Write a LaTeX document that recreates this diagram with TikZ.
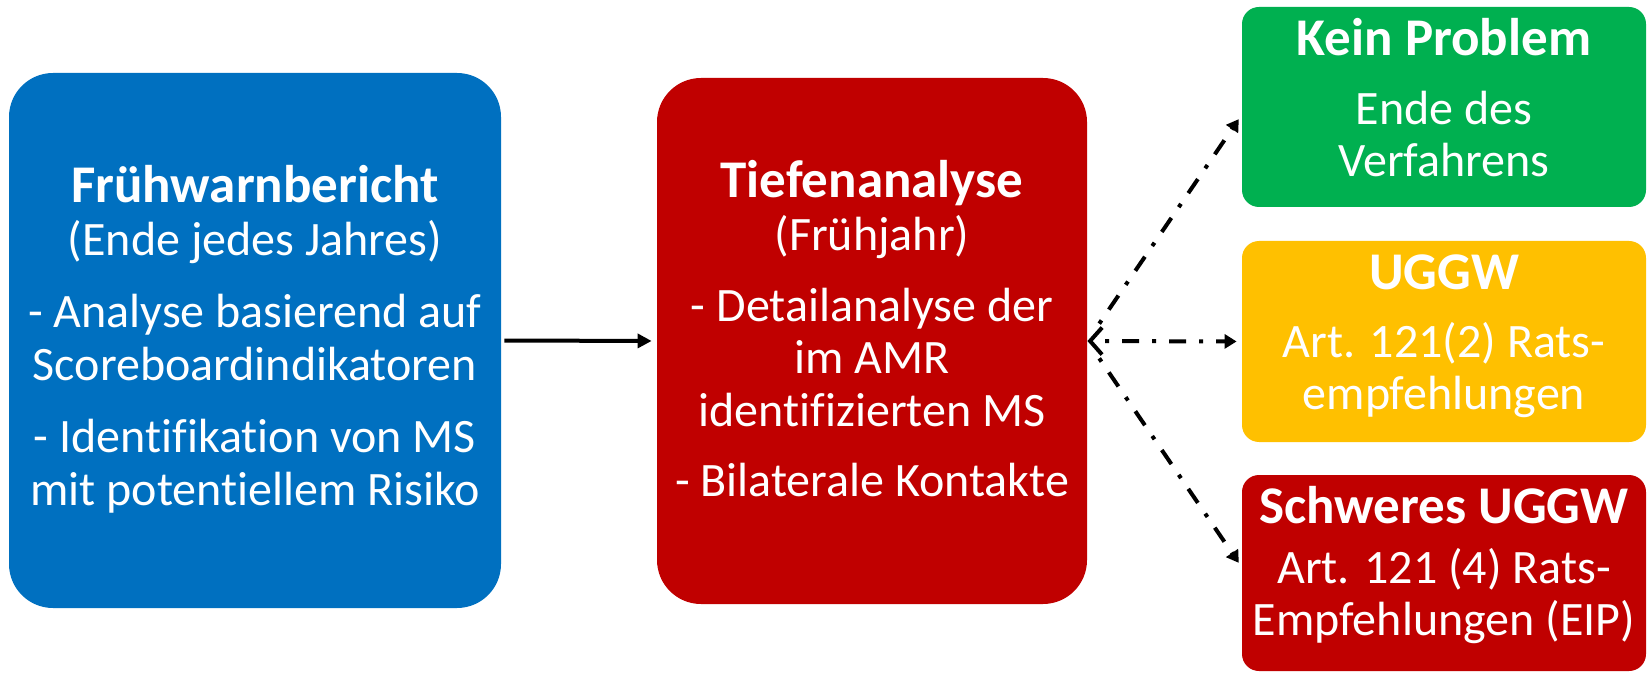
\documentclass[tikz,border=0pt]{standalone}
\usepackage{fontspec}
\setmainfont{Carlito}[Ligatures=NoCommon]
\usetikzlibrary{arrows.meta}
\definecolor{cblue}{HTML}{0070C0}
\definecolor{cred}{HTML}{C00000}
\definecolor{cgreen}{HTML}{00B050}
\definecolor{cyellow}{HTML}{FFC000}
\newcommand{\mytopstrut}{\rule{0pt}{19.5pt}}
\newcommand{\mybotstrut}[1]{\rule[-#1]{0pt}{#1}}
\newcommand{\hd}[1]{{\fontsize{26.5}{26.25}\selectfont\bfseries #1}}
\begin{document}
\begin{tikzpicture}[x=0.5pt,y=-0.5pt,
  box/.style={rounded corners=22pt, fill=#1, text=white, inner sep=0pt, align=center,
    font=\fontsize{24}{26.25}\selectfont},
  rbox/.style={box=#1, rounded corners=8.5pt, minimum width=202pt, minimum height=100pt},
  conn/.style={line width=2pt, -{Triangle[length=7pt,width=7pt]}},
  dd/.style={line width=2pt, dash pattern=on 8.5pt off 6.5pt on 2pt off 6.5pt, dash phase=8.5pt,
    -{Triangle[length=6pt,width=7pt]}},
  ddstart/.style={{Straight Barb[length=6pt,width=13.5pt]}-{Triangle[length=6pt,width=7pt]}}]
\useasboundingbox (0,0) rectangle (1648,673);
\node[box=cblue, minimum width=246pt, minimum height=267.5pt] (fw) at (255,340.5)
  {\hd{Frühwarnbericht}\mytopstrut\\(Ende jedes Jahres)\\[10pt]- Analyse basierend auf\\Scoreboardindikatoren\\[10pt]- Identifikation von MS\\mit potentiellem Risiko\mybotstrut{6pt}};
\node[box=cred, minimum width=215pt, minimum height=263pt] (ta) at (872,341)
  {\hd{Tiefenanalyse}\mytopstrut\\(Frühjahr)\\[9.25pt]- Detailanalyse der\\im AMR\\identifizierten MS\\[8.75pt]- Bilaterale Kontakte\mybotstrut{13.5pt}};
\node[rbox=cgreen] (kp) at (1444,107)
  {\hd{Kein Problem}\mytopstrut\\[8.25pt]Ende des\\Verfahrens\mybotstrut{10.5pt}};
\node[rbox=cyellow, minimum height=100.5pt] (ug) at (1444,341.5)
  {\hd{UGGW}\mytopstrut\\[7.75pt]Art. 121(2) Rats-\\empfehlungen\mybotstrut{11.5pt}};
\node[rbox=cred, minimum height=98pt] (su) at (1444,573)
  {\hd{Schweres UGGW}\mytopstrut\\[3.75pt]Art. 121 (4) Rats-\\Empfehlungen (EIP)\mybotstrut{13pt}};
\draw[conn, shorten <=1.5pt, shorten >=2.5pt] (fw.east) -- (ta.west);
\draw[dd, shorten <=4pt, shorten >=2.5pt] (ta.east) -- ([yshift=-4pt]kp.west);
\draw[dd, ddstart, shorten >=2.5pt] (ta.east) -- (ug.west);
\draw[dd, shorten <=4pt, shorten >=2.5pt] (ta.east) -- ([yshift=3pt]su.west);
\end{tikzpicture}
\end{document}
